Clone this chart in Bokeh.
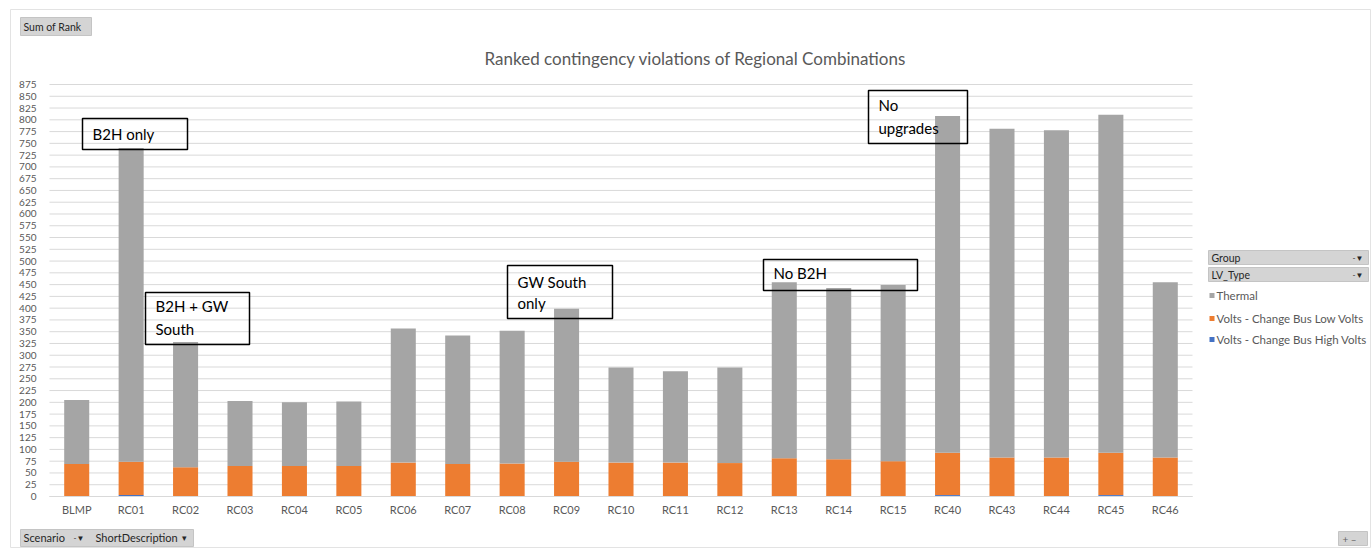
from bokeh.plotting import figure
from bokeh.models import Range1d, FixedTicker, Label, BoxAnnotation, ColumnDataSource
from bokeh.embed import file_html
from bokeh.resources import INLINE

categories = ["BLMP", "RC01", "RC02", "RC03", "RC04", "RC05", "RC06", "RC07", "RC08", "RC09",
              "RC10", "RC11", "RC12", "RC13", "RC14", "RC15", "RC40", "RC43", "RC44", "RC45", "RC46"]
high_volts = [0, 3, 0, 0, 0, 0, 0, 0, 0, 0, 0, 0, 0, 0, 0, 0, 3, 0, 0, 3, 0]
low_volts = [69, 71, 62, 65, 65, 65, 72, 69, 70, 74, 72, 72, 71, 81, 79, 75, 90, 83, 83, 90, 83]
thermal = [136, 666, 266, 138, 135, 137, 285, 273, 282, 325, 202, 194, 203, 374, 364, 374, 715, 698, 695, 718, 372]
series_names = ["Thermal", "Volts - Change Bus Low Volts", "Volts - Change Bus High Volts"]
y_ticks = list(range(0, 876, 25))
y_max = 875

W, H = 1371, 548
FL, FR, FT, FB = 49, 1192, 84, 496   # plot-area edges in pixels
N = len(categories)
FONT = "Lato"

def px2x(px):
    return (px - FL) / ((FR - FL) / N) - 0.5

def px2y(py):
    return (FB - py) * y_max / (FB - FT)

src = ColumnDataSource(dict(x=list(range(N)), high=high_volts, low=low_volts, thermal=thermal))

p = figure(width=W, height=H, x_range=Range1d(px2x(0), px2x(W)), y_range=Range1d(px2y(H), px2y(0)),
           min_border=0, output_backend="svg", toolbar_location=None)
p.outline_line_color = None
p.background_fill_color = "white"
p.border_fill_color = "white"
p.xgrid.grid_line_color = None
p.ygrid.grid_line_color = None

# outer chart border
p.add_layout(BoxAnnotation(left=px2x(10), right=px2x(1370), top=px2y(9), bottom=px2y(547),
                           fill_alpha=0, line_color="#e3e3e3", line_alpha=1, line_width=1, level="underlay"))

# horizontal gridlines across the plot area
p.segment(x0=[-0.5] * len(y_ticks), x1=[N - 0.5] * len(y_ticks), y0=y_ticks, y1=y_ticks,
          line_color="#d9d9d9", line_width=1)

p.vbar_stack(["high", "low", "thermal"], x="x", width=0.46, source=src,
             color=["#4472c4", "#ed7d31", "#a5a5a5"], line_color=None)

p.yaxis.fixed_location = px2x(FL)
p.yaxis.ticker = FixedTicker(ticks=y_ticks)
p.yaxis.axis_line_color = None
p.yaxis.major_tick_line_color = None
p.yaxis.minor_tick_line_color = None
p.yaxis.major_label_text_font = FONT
p.yaxis.major_label_text_font_size = "10px"
p.yaxis.major_label_text_color = "#595959"
p.yaxis.major_label_standoff = 7

p.xaxis.fixed_location = 0
p.xaxis.bounds = (-0.5, N - 0.5)
p.xaxis.ticker = FixedTicker(ticks=list(range(N)))
p.xaxis.major_label_overrides = {i: c for i, c in enumerate(categories)}
p.xaxis.axis_line_color = "#d9d9d9"
p.xaxis.major_tick_line_color = None
p.xaxis.minor_tick_line_color = None
p.xaxis.major_label_text_font = FONT
p.xaxis.major_label_text_font_size = "11px"
p.xaxis.major_label_text_color = "#595959"
p.xaxis.major_label_standoff = 0

# title
p.add_layout(Label(x=px2x(695), y=px2y(58), text="Ranked contingency violations of Regional Combinations",
                   text_align="center", text_baseline="middle", text_font=FONT,
                   text_font_size="17px", text_color="#595959"))

# annotation boxes
boxes = [
    (82, 187, 118, 149, ["B2H only"], 133, 0),
    (145, 249, 292, 344, ["B2H + GW", "South"], 305, 23),
    (507, 612, 265, 318, ["GW South", "only"], 281, 21),
    (763, 917, 259, 290, ["No B2H"], 272, 0),
    (868, 967, 90, 143, ["No", "upgrades"], 104, 23),
]
for l, r, t, b, lines, ty, dy in boxes:
    p.add_layout(BoxAnnotation(left=px2x(l), right=px2x(r), top=px2y(t), bottom=px2y(b),
                               fill_alpha=0, line_color="black", line_alpha=1, line_width=1.5))
    for k, ln in enumerate(lines):
        p.add_layout(Label(x=px2x(l + 10), y=px2y(ty + k * dy), text=ln, text_baseline="middle",
                           text_font=FONT, text_font_size="15px", text_color="black"))

# pivot buttons
def button(l, r, t, b):
    p.add_layout(BoxAnnotation(left=px2x(l), right=px2x(r), top=px2y(t), bottom=px2y(b),
                               fill_color="#d4d4d4", fill_alpha=1, line_color="#c4c4c4",
                               line_alpha=1, line_width=1))

def small_text(x, y, txt, color="#262626", size="11px"):
    p.add_layout(Label(x=px2x(x), y=px2y(y), text=txt, text_baseline="middle",
                       text_font=FONT, text_font_size=size, text_color=color))

button(20, 91, 17, 35)
small_text(23, 26, "Sum of Rank", size="10.5px")

button(20, 193, 529, 546)
small_text(23, 537, "Scenario")
small_text(73, 537, "-\u25BC", size="8px")
small_text(95, 537, "ShortDescription")
small_text(181, 537, "\u25BE", size="9px")

button(1338, 1367, 531, 545)
small_text(1342, 538, "+  \u2013", color="#666666", size="10px")

# legend
button(1208, 1368, 250, 264)
small_text(1211, 257, "Group", size="10.5px")
small_text(1352, 257, "-\u25BC", size="8px")
button(1208, 1368, 267, 281)
small_text(1211, 274, "LV_Type", size="10.5px")
small_text(1352, 274, "-\u25BC", size="8px")

legend_colors = ["#a5a5a5", "#ed7d31", "#4472c4"]
legend_y = [295, 318, 339]
for name, col, ly in zip(series_names, legend_colors, legend_y):
    p.add_layout(BoxAnnotation(left=px2x(1209), right=px2x(1214), top=px2y(ly - 2.5), bottom=px2y(ly + 2.5),
                               fill_color=col, fill_alpha=1, line_color=None))
    small_text(1216, ly, name, color="#595959", size="11.5px")

open("out.html", "w").write(file_html(p, INLINE))
